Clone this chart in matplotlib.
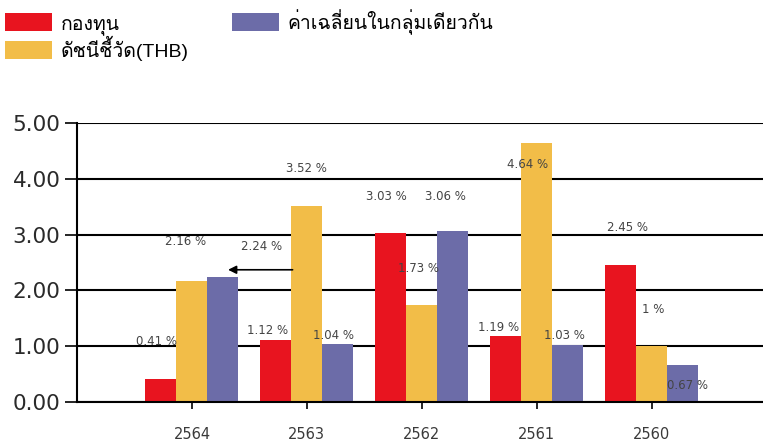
import numpy as np
import matplotlib
matplotlib.use("Agg")
import matplotlib.pyplot as plt
from matplotlib import font_manager, ft2font

years = ['2564', '2563', '2562', '2561', '2560']
fund = [0.41, 1.12, 3.03, 1.19, 2.45]
benchmark = [2.16, 3.52, 1.73, 4.64, 1.00]
peer = [2.24, 1.04, 3.06, 1.03, 0.67]
names = ['กองทุน', 'ดัชนีชี้วัด(THB)', 'ค่าเฉลี่ยนในกลุ่มเดียวกัน']
colors = ['#E8141F', '#F2BD48', '#6C6CA8']

# where the value labels sit (data units), same order as the bars
label_pos = {
    0: [(-0.31, 1.08), (0.66, 1.29), (1.69, 3.69), (2.67, 1.33), (3.79, 3.12)],
    1: [(-0.06, 2.87), (1.00, 4.19), (1.97, 2.40), (2.92, 4.25), (4.01, 1.65)],
    2: [(0.61, 2.78), (1.23, 1.20), (2.21, 3.69), (3.24, 1.20), (4.31, 0.29)],
}


def thai_font():
    for f in font_manager.fontManager.ttflist:
        try:
            cmap = ft2font.FT2Font(f.fname).get_charmap()
        except Exception:
            continue
        if 0x0E01 in cmap:
            return f.name
    return None


fams = ['DejaVu Sans']
tf = thai_font()
if tf:
    fams = ['Liberation Sans', tf, 'DejaVu Sans']
plt.rcParams['font.family'] = fams

fig = plt.figure(figsize=(7.63, 4.47), dpi=100)
ax = fig.add_axes([0.101, 0.1007, 0.899, 0.624])

x = np.arange(len(years))
w = 0.27
series = [fund, benchmark, peer]
for k, (vals, c, n) in enumerate(zip(series, colors, names)):
    ax.bar(x + (k - 1) * w, vals, width=w, color=c, label=n, zorder=2)
    for v, (lx, ly) in zip(vals, label_pos[k]):
        ax.text(lx, ly, f'{v:g} %', ha='center', va='center', fontsize=8.5,
                color='#444444', family='DejaVu Sans', zorder=3)

ax.annotate('', xy=(0.29, 2.37), xytext=(0.90, 2.37),
            arrowprops=dict(arrowstyle='-|>', color='black', lw=1.2,
                            mutation_scale=12), zorder=4)

ax.set_xlim(-1, 4.97)
ax.set_ylim(0, 5)
ticks = np.arange(0, 5.01, 1)
ax.set_yticks(ticks)
ax.set_yticklabels([f'{t:.2f}' for t in ticks], fontsize=15.5,
                   color='#2a2a2a', family='DejaVu Sans')
ax.set_xticks(x)
ax.set_xticklabels(years, fontsize=10.5, color='#3a3a3a', family='DejaVu Sans')
ax.tick_params(axis='y', length=9, width=1.2, direction='out', pad=3)
ax.tick_params(axis='x', length=5, width=1.2, direction='out', pad=13)
ax.grid(axis='y', color='black', lw=1.5, zorder=0)
ax.set_axisbelow(True)
for s in ['top', 'right']:
    ax.spines[s].set_visible(False)
ax.spines['left'].set_linewidth(1.5)
ax.spines['bottom'].set_linewidth(1.5)

h, l = ax.get_legend_handles_labels()
fig.legend(h, l, loc='upper left', bbox_to_anchor=(5 / 763, 1 - 9 / 447),
           ncol=2, frameon=False, fontsize=14, handlelength=2.42,
           handleheight=1.08, columnspacing=2.2, handletextpad=0.45,
           labelspacing=0.05, borderaxespad=0, borderpad=0)

fig.savefig('out.png', dpi=100)
